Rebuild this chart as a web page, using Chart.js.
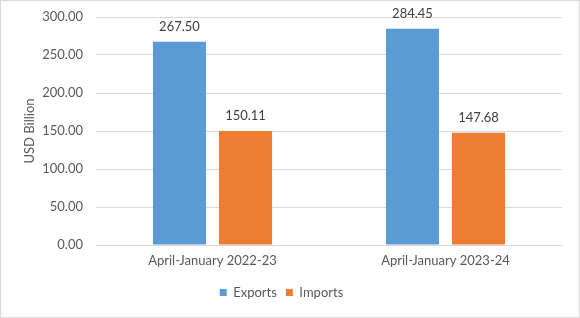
<!DOCTYPE html>
<html>
<head>
<meta charset="utf-8">
<script src="https://cdn.jsdelivr.net/npm/chart.js@4"></script>
<style>
html,body{margin:0;padding:0;background:#fff;}
#wrap{width:578px;height:316px;border:1px solid #d9d9d9;position:relative;background:#fff;}
</style>
</head>
<body>
<div id="wrap"><canvas id="c" width="578" height="316"></canvas></div>
<script>
const categories = ["April-January 2022-23", "April-January 2023-24"];
const exportsValues = [267.50, 284.45];
const importsValues = [150.11, 147.68];
const yTicks = [0, 50, 100, 150, 200, 250, 300];
const seriesNames = ["Exports", "Imports"];

const FONT = "Lato, 'Open Sans', sans-serif";
const TXT = "#595959";

const valueLabels = {
  id: 'valueLabels',
  afterDatasetsDraw(chart) {
    const ctx = chart.ctx;
    ctx.save();
    ctx.font = "13px " + FONT;
    ctx.fillStyle = "#404040";
    ctx.textAlign = "center";
    ctx.textBaseline = "middle";
    chart.data.datasets.forEach((ds, i) => {
      chart.getDatasetMeta(i).data.forEach((bar, j) => {
        ctx.fillText(ds.data[j].toFixed(2), bar.x, bar.y - 15);
      });
    });
    ctx.restore();
  }
};

new Chart(document.getElementById('c'), {
  type: 'bar',
  data: {
    labels: categories,
    datasets: [
      { label: seriesNames[0], data: exportsValues, backgroundColor: '#5B9BD5',
        categoryPercentage: 0.567, barPercentage: 0.803 },
      { label: seriesNames[1], data: importsValues, backgroundColor: '#ED7D31',
        categoryPercentage: 0.567, barPercentage: 0.803 }
    ]
  },
  options: {
    responsive: false,
    animation: false,
    devicePixelRatio: 1,
    layout: { padding: { left: 0, right: 17, top: 16, bottom: 8 } },
    plugins: {
      legend: {
        position: 'bottom',
        labels: {
          boxWidth: 7, boxHeight: 7, padding: 9,
          color: TXT, font: { family: FONT, size: 13 }
        }
      },
      tooltip: { enabled: false }
    },
    scales: {
      x: {
        grid: { display: false, drawTicks: false },
        border: { color: '#d9d9d9' },
        ticks: { color: TXT, font: { family: FONT, size: 13 }, padding: 8 },
        afterFit(s) { s.height = 32; s.paddingLeft = 0; s.paddingRight = 0; }
      },
      y: {
        min: 0, max: 300,
        afterBuildTicks(s) { s.ticks = yTicks.map(v => ({ value: v })); },
        grid: { color: '#d9d9d9', drawTicks: false },
        border: { display: false },
        ticks: {
          color: TXT, font: { family: FONT, size: 13 }, padding: 13,
          callback: v => Number(v).toFixed(2)
        },
        title: { display: true, text: 'USD Billion', color: TXT, font: { family: FONT, size: 13 }, padding: { top: 21, bottom: 0 } },
        afterFit(s) { s.width = 95; s.paddingTop = 0; s.paddingBottom = 0; }
      }
    }
  },
  plugins: [valueLabels]
});
</script>
</body>
</html>
